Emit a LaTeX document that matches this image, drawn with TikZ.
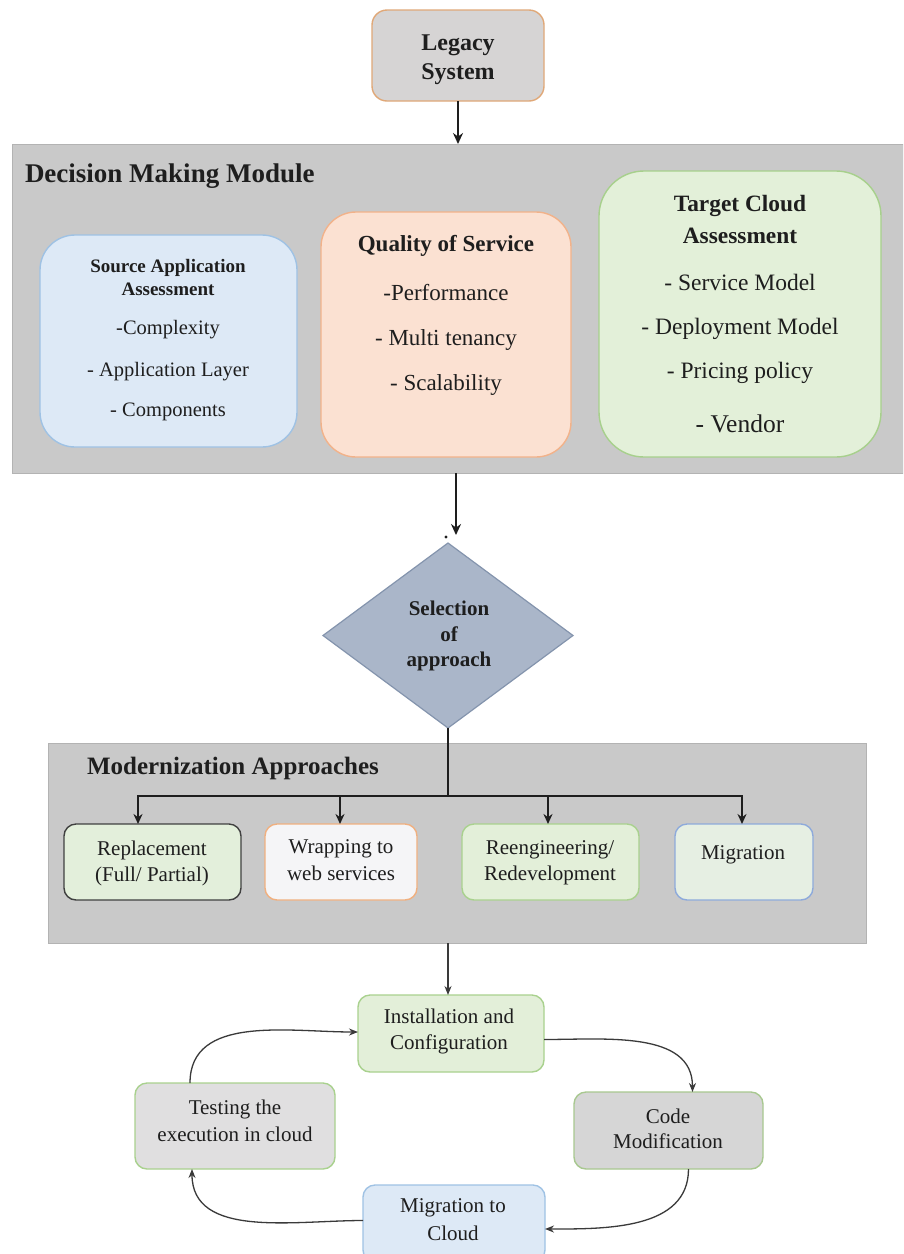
\documentclass[tikz,border=0pt]{standalone}
\usepackage{fontspec}
\setmainfont{Liberation Serif}
\usetikzlibrary{shapes.geometric,arrows.meta,calc}

\definecolor{ink}{HTML}{1E1E1E}
\definecolor{ink2}{HTML}{3A3A3A}
\definecolor{panelfill}{HTML}{C9C9C9}
\definecolor{panelline}{HTML}{B3B3B3}
\definecolor{legfill}{HTML}{D6D4D4}
\definecolor{legline}{HTML}{E0A878}
\definecolor{srcfill}{HTML}{DDE9F6}
\definecolor{srcline}{HTML}{9FC2E4}
\definecolor{qosfill}{HTML}{FBE1D2}
\definecolor{qosline}{HTML}{F2B28A}
\definecolor{tgtfill}{HTML}{E3F0D9}
\definecolor{tgtline}{HTML}{A7D08C}
\definecolor{selfill}{HTML}{AAB6C9}
\definecolor{selline}{HTML}{8494AD}
\definecolor{repfill}{HTML}{E3EFDB}
\definecolor{repline}{HTML}{404040}
\definecolor{wrapfill}{HTML}{F5F5F7}
\definecolor{wrapline}{HTML}{F0B080}
\definecolor{greenfill}{HTML}{E3EFD9}
\definecolor{greenline}{HTML}{A9D18E}
\definecolor{migfill}{HTML}{E6EFE3}
\definecolor{migline}{HTML}{8EAADB}
\definecolor{testfill}{HTML}{E0DFE0}
\definecolor{codefill}{HTML}{D6D6D6}
\definecolor{codeline}{HTML}{A8C890}
\definecolor{bluefill}{HTML}{DDE9F6}
\definecolor{blueline}{HTML}{9FC2E4}

\newcommand\setfs[2]{\fontsize{#1}{#2}\selectfont}

\begin{document}
\begin{tikzpicture}[x=1pt,y=-1pt,
  every node/.style={inner sep=0pt,outer sep=0pt},
  panel/.style={rectangle,draw=panelline,fill=panelfill,line width=1pt},
  card/.style 2 args={rectangle,draw=#1,fill=#2,line width=1.4pt},
  ln/.style={anchor=base,text=ink},
  hd/.style={ln,font=\bfseries\setfs{#1}{#1}},
  tx/.style={ln,font=\setfs{#1}{#1}},
  big/.style={draw=ink,line width=2.4pt,-{Stealth[length=11pt,width=10pt]}},
  branch/.style={draw=ink,line width=2.2pt,-{Stealth[length=10pt,width=9pt]}},
  stem/.style={draw=ink,line width=2.4pt},
  flow/.style={draw=ink2,line width=1.3pt,-{Stealth[length=9pt,width=7pt]}}]

\useasboundingbox (0,0) rectangle (903,1254);
\clip (0,0) rectangle (903,1254);
\fill[white] (0,0) rectangle (903,1254);

% ---- Legacy system
\node[card={legline}{legfill},rounded corners=15pt,minimum width=172pt,minimum height=91pt] (legacy) at (458,55.5) {};
\node[hd=24] (legacyA) at (458,50) {Legacy};
\node[hd=24] (legacyB) at (458,79) {System};

% ---- Decision making module
\node[panel,minimum width=891pt,minimum height=329pt] (dmm) at (457.5,308.5) {};
\node[hd=27,anchor=base west] (dmmT) at (25,182) {Decision Making Module};

\node[card={srcline}{srcfill},rounded corners=35pt,minimum width=257pt,minimum height=212pt] (src) at (168.5,341) {};
\node[hd=19] (srcT1) at (168,272) {Source Application};
\node[hd=19] (srcT2) at (168,295) {Assessment};
\node[tx=20.5] (src1) at (168,334) {-Complexity};
\node[tx=20.5] (src2) at (168,376) {- Application Layer};
\node[tx=20.5] (src3) at (168,416) {- Components};

\node[card={qosline}{qosfill},rounded corners=35pt,minimum width=250pt,minimum height=245pt] (qos) at (446,334.5) {};
\node[hd=23] (qosT) at (446,251) {Quality of Service};
\node[tx=23] (qos1) at (446,300) {-Performance};
\node[tx=23] (qos2) at (446,345) {- Multi tenancy};
\node[tx=23] (qos3) at (446,390) {- Scalability};

\node[card={tgtline}{tgtfill},rounded corners=45pt,minimum width=282pt,minimum height=286pt] (tgt) at (740,314) {};
\node[hd=23.4] (tgtT1) at (740,211) {Target Cloud};
\node[hd=23.4] (tgtT2) at (740,243) {Assessment};
\node[tx=23.5] (tgt1) at (740,290) {- Service Model};
\node[tx=23.5] (tgt2) at (740,334) {- Deployment Model};
\node[tx=23.5] (tgt3) at (740,378) {- Pricing policy};
\node[tx=25.5] (tgt4) at (740,432) {- Vendor};

% ---- Selection of approach
\node[diamond,draw=selline,fill=selfill,line width=1.2pt,minimum width=250pt,minimum height=185pt] (sel) at (448,635.5) {};
\node[hd=21] (selA) at (449,615) {Selection};
\node[hd=21] (selB) at (449,641) {of};
\node[hd=21] (selC) at (449,666) {approach};

% ---- Modernization approaches
\node[panel,minimum width=818pt,minimum height=200pt] (ma) at (457,843) {};
\node[hd=25,anchor=base west] (maT) at (87,774) {Modernization Approaches};

\node[card={repline}{repfill},rounded corners=12pt,minimum width=177pt,minimum height=76pt] (rep) at (152.5,862) {};
\node[tx=21] (repA) at (152,855) {Replacement};
\node[tx=21] (repB) at (152,881) {(Full/ Partial)};

\node[card={wrapline}{wrapfill},rounded corners=12pt,minimum width=152pt,minimum height=76pt] (wrap) at (341,862) {};
\node[tx=21] (wrapA) at (341,853) {Wrapping to};
\node[tx=21] (wrapB) at (341,880) {web services};

\node[card={greenline}{greenfill},rounded corners=12pt,minimum width=177pt,minimum height=76pt] (ree) at (550.5,862) {};
\node[tx=21] (reeA) at (550,854) {Reengineering/};
\node[tx=21] (reeB) at (550,880) {Redevelopment};

\node[card={migline}{migfill},rounded corners=12pt,minimum width=138pt,minimum height=76pt] (mig) at (744,862) {};
\node[tx=21] (migA) at (743,859) {Migration};

% ---- Migration cycle
\node[card={greenline}{greenfill},rounded corners=12pt,minimum width=186pt,minimum height=77pt] (inst) at (451,1033.5) {};
\node[tx=21] (instA) at (449,1023) {Installation and};
\node[tx=21] (instB) at (449,1049) {Configuration};

\node[card={codeline}{codefill},rounded corners=12pt,minimum width=189pt,minimum height=77pt] (code) at (668.5,1130.5) {};
\node[tx=21] (codeA) at (668,1123) {Code};
\node[tx=21] (codeB) at (668,1148) {Modification};

\node[card={blueline}{bluefill},rounded corners=12pt,minimum width=182pt,minimum height=77pt] (cloud) at (454,1223.5) {};
\node[tx=21] (cloudA) at (453,1212) {Migration to};
\node[tx=21] (cloudB) at (453,1240) {Cloud};

\node[card={greenline}{testfill},rounded corners=12pt,minimum width=200pt,minimum height=86pt] (test) at (235,1126) {};
\node[tx=21] (testA) at (235,1114) {Testing the};
\node[tx=21] (testB) at (235,1141) {execution in cloud};

% ---- Connectors
\draw[big] (legacy.south) -- (legacy.south |- dmm.north);
\draw[big,shorten >=8pt] ($(dmm.south)+(-1.5,0)$) -- ($(sel.north)+(8,0)$);
\fill[ink] ($(sel.north)+(-2,-6)$) circle (1.6pt);

\coordinate (fork) at (448,796);
\coordinate (d1) at ($(rep.north)+(-14.5,0)$);
\coordinate (d2) at ($(wrap.north)+(-1,0)$);
\coordinate (d3) at ($(ree.north)+(-2.5,0)$);
\coordinate (d4) at ($(mig.north)+(-2,0)$);
\draw[stem] (sel.south) -- (fork);
\draw[branch] (fork) -| (d1);
\draw[branch] (fork) -| (d4);
\draw[branch] (d2 |- fork) -- (d2);
\draw[branch] (d3 |- fork) -- (d3);

\draw[flow] ($(ma.south)+(-9,0)$) -- ($(inst.north)+(-3,0)$);
\draw[flow] ($(inst.east)+(0,6)$) to[out=0,in=90] ($(code.north)+(24,0)$);
\draw[flow] ($(code.south)+(20,0)$) to[out=-90,in=0] ($(cloud.east)+(0,5.5)$);
\draw[flow] ($(cloud.west)+(0,-3)$) to[out=180,in=-90] ($(test.south)+(-43,0)$);
\draw[flow] ($(test.north)+(-45,0)$) to[out=90,in=180] ($(inst.west)+(0,-1.5)$);
\end{tikzpicture}
\end{document}
